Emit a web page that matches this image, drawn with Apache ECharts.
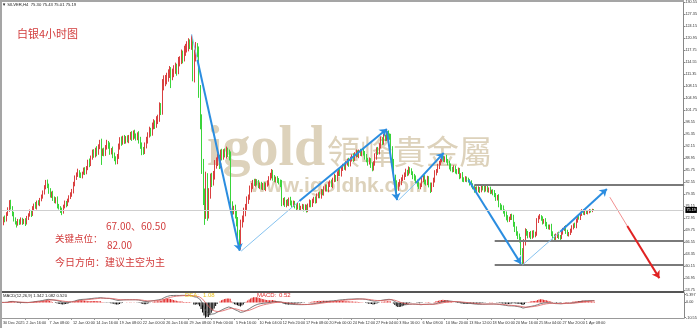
<!DOCTYPE html>
<html><head><meta charset="utf-8">
<script src="https://cdn.jsdelivr.net/npm/echarts@6/dist/echarts.min.js"></script>
<style>html,body{margin:0;padding:0;background:#fff}#c{width:700px;height:328px}</style>
</head><body><div id="c"></div>
<script>
// ---- data ----
const tickLabels = ["30 Dec 2025","2 Jan 16:00","7 Jan 08:00","12 Jan 00:00","14 Jan 16:00","19 Jan 08:00","22 Jan 00:00","26 Jan 16:00","29 Jan 08:00","3 Feb 00:00","5 Feb 16:00","10 Feb 04:00","12 Feb 20:00","17 Feb 08:00","20 Feb 00:00","24 Feb 12:00","27 Feb 04:00","3 Mar 16:00","6 Mar 08:00","10 Mar 20:00","13 Mar 12:00","18 Mar 00:00","20 Mar 16:00","25 Mar 04:00","27 Mar 20:00","1 Apr 08:00"];
const firstOpen = 72.0;
const closes = [
72.4,71.6,73.0,72.5,74.1,75.3,77.0,75.8,74.2,72.6,71.9,71.4,72.3,71.8,72.6,71.9,
72.4,71.7,73.1,73.9,74.6,74.0,75.6,76.5,76.0,77.2,76.8,78.0,78.6,79.9,81.2,82.3,
81.6,80.2,79.0,79.6,78.4,77.5,78.0,76.3,75.8,75.2,74.8,76.1,77.0,76.6,77.8,78.6,
79.3,80.0,82.2,83.7,84.6,85.3,84.6,84.2,85.0,85.8,85.2,86.4,88.0,87.4,89.2,90.6,
89.8,91.2,90.4,92.0,93.0,90.4,91.0,90.2,91.8,93.0,92.4,90.6,91.2,89.8,88.9,88.2,
89.4,92.0,93.8,93.2,94.4,93.6,94.2,93.8,94.6,95.2,94.5,95.7,95.0,94.4,95.1,93.8,
92.5,91.0,90.8,92.4,93.8,95.2,96.3,95.8,97.6,98.4,97.9,99.0,99.7,102.4,101.8,108.5,
109.3,110.0,110.4,111.6,112.0,110.8,111.9,112.6,113.1,112.4,114.7,115.2,116.5,115.8,117.6,118.4,
118.9,119.5,119.2,119.6,111.0,116.0,118.4,117.3,106.7,98.7,87.2,79.5,74.6,83.2,74.5,79.5,
83.7,82.8,84.5,87.2,88.2,89.0,87.2,90.2,89.6,90.6,90.0,90.9,90.2,89.4,76.5,75.0,
75.4,74.2,72.0,68.5,65.8,71.5,72.8,74.6,76.0,77.8,78.6,80.8,81.6,82.6,82.2,82.8,
82.4,81.6,82.0,81.2,81.8,81.0,82.0,82.4,83.6,84.2,85.3,83.8,83.2,83.6,82.9,82.6,
82.0,77.2,77.8,76.6,77.4,76.8,77.9,77.2,76.5,77.0,76.2,75.8,76.4,75.7,75.9,76.2,
75.4,76.0,75.2,76.4,77.2,76.6,77.5,78.2,77.6,78.8,79.4,78.9,80.2,79.6,80.8,81.4,
80.6,81.9,82.6,81.8,83.2,84.0,83.4,84.8,85.6,84.9,86.2,87.0,86.4,87.6,88.2,87.5,
88.6,89.4,88.8,89.9,90.5,89.8,90.6,90.2,90.8,90.3,89.4,88.6,87.9,88.4,87.2,86.4,
87.6,89.4,91.2,90.6,92.4,93.9,93.2,94.7,94.2,95.7,95.0,94.6,91.5,88.0,84.0,82.4,
81.0,82.0,82.6,83.4,83.9,84.6,85.4,85.0,86.2,85.6,85.0,84.2,83.6,82.8,82.2,81.4,
81.8,83.2,83.7,82.8,82.4,83.6,82.0,80.6,81.8,83.2,85.0,85.6,86.8,87.7,88.4,89.0,
88.6,89.2,88.3,87.7,86.8,86.2,85.8,86.4,85.6,85.3,85.8,84.2,84.6,83.4,83.2,83.6,
83.2,83.0,82.4,81.8,81.2,80.5,81.0,80.5,80.8,80.4,81.2,81.0,80.6,81.3,80.5,80.8,
80.0,80.2,79.8,79.2,78.4,78.6,76.5,76.0,75.7,74.8,74.2,73.3,72.6,73.0,73.6,73.2,
71.5,70.2,69.0,68.2,67.4,64.2,61.6,66.5,69.6,69.0,68.4,68.9,68.1,69.2,68.6,68.9,
72.4,73.2,73.4,72.9,72.0,72.3,71.4,70.8,70.5,70.9,69.0,68.0,67.6,68.4,68.8,68.0,
67.9,69.2,70.0,70.4,69.4,68.7,68.9,69.6,70.6,71.2,70.8,72.4,73.3,73.0,74.2,75.0,
74.3,74.7,74.4,74.6,75.1,74.9,75.30,75.19];
const upperWicks = [
0.5,0.6,0.4,0.7,0.5,0.6,0.8,0.9,0.4,0.5,0.6,0.3,0.5,0.4,0.6,0.5,
0.4,0.6,0.5,0.4,0.7,0.5,0.6,0.4,0.8,0.5,0.6,0.4,0.7,0.5,0.6,0.9,
1.0,0.6,0.8,0.5,0.7,0.4,0.6,0.8,0.5,0.4,0.6,0.5,0.7,0.6,0.4,0.5,
0.6,0.8,0.5,0.7,0.6,0.9,0.5,0.6,0.4,0.7,0.8,0.5,0.6,0.9,0.5,0.7,
0.8,0.6,1.0,0.7,0.9,1.2,0.6,0.8,0.7,0.9,0.6,0.8,0.5,0.9,0.7,0.6,
0.7,0.9,0.8,1.0,0.6,0.8,0.7,0.9,0.6,0.8,1.0,0.7,0.9,0.6,0.8,1.1,
0.9,0.7,1.0,0.8,0.9,0.7,1.1,0.8,0.9,1.0,0.7,1.2,0.9,1.5,1.3,1.6,
1.8,1.2,1.4,1.1,1.6,1.3,1.0,1.2,1.4,1.1,1.3,1.0,1.5,1.2,1.4,1.1,
1.3,1.5,1.2,2.2,1.4,2.0,1.6,1.3,1.5,1.8,2.0,1.6,1.4,2.2,1.8,1.5,
1.2,1.4,1.1,1.3,1.0,1.2,0.9,1.1,1.3,0.8,1.0,1.2,0.9,1.1,1.4,1.0,
0.9,1.2,1.0,1.3,1.4,1.1,0.9,1.2,0.8,1.0,0.7,0.9,0.8,0.6,0.9,0.7,
0.6,0.8,0.5,0.7,0.6,0.8,0.5,0.7,0.6,0.9,0.8,0.6,0.7,0.5,0.6,0.8,
0.7,1.2,0.6,0.8,0.5,0.7,0.6,0.8,0.5,0.7,0.6,0.5,0.7,0.6,0.4,0.6,
0.5,0.7,0.6,0.5,0.8,0.6,0.7,0.5,0.6,0.8,0.5,0.7,0.6,0.5,0.7,0.6,
0.6,0.8,0.5,0.7,0.6,0.9,0.5,0.7,0.8,0.6,0.7,0.5,0.8,0.6,0.7,0.9,
0.8,0.6,0.9,0.7,0.8,0.6,0.7,0.9,0.5,0.8,0.6,0.7,0.5,0.8,0.6,0.7,
0.6,0.9,0.7,0.8,0.6,0.9,0.7,0.8,0.6,0.8,0.7,0.6,0.9,0.7,0.8,0.6,
0.7,0.6,0.8,0.5,0.7,0.6,0.8,0.5,0.6,0.4,0.7,0.5,0.6,0.8,0.5,0.6,
0.5,0.7,0.6,0.8,0.5,0.7,0.6,0.5,0.7,0.6,0.8,0.5,0.7,0.6,0.5,0.7,
0.6,0.3,0.7,0.5,0.6,0.8,0.5,0.7,0.6,0.5,0.7,0.6,0.4,0.7,0.5,0.6,
0.5,0.6,0.4,0.7,0.5,0.6,0.4,0.5,0.7,0.5,0.6,0.4,0.6,0.5,0.7,0.4,
0.6,0.4,0.5,0.7,0.5,0.6,0.8,0.5,0.6,0.7,0.5,0.6,0.5,0.4,0.5,0.6,
0.7,0.5,0.6,0.5,0.7,0.6,0.8,0.9,0.7,0.5,0.6,0.4,0.7,0.5,0.6,0.5,
0.6,0.5,0.7,0.4,0.6,0.5,0.7,0.6,0.5,0.4,0.6,0.5,0.7,0.5,0.4,0.6,
0.5,0.6,0.4,0.5,0.7,0.5,0.4,0.6,0.5,0.4,0.6,0.5,0.4,0.6,0.5,0.4,
0.4,0.3,0.4,0.3,0.3,0.2,0.2,0.13];
const lowerWicks = [
0.6,0.8,0.5,0.6,0.4,0.5,0.6,0.5,0.7,0.5,0.6,0.9,0.4,0.6,0.5,0.7,
0.5,0.8,0.4,0.6,0.5,0.7,0.4,0.6,0.5,0.7,0.4,0.6,0.5,0.4,0.6,0.5,
0.6,0.7,0.5,0.6,0.8,0.5,0.6,0.7,0.5,0.8,1.0,0.6,0.5,0.7,0.4,0.6,
0.5,0.6,0.4,0.7,0.5,0.6,0.8,0.5,0.6,0.4,0.7,0.5,0.6,0.8,0.5,0.6,
0.7,0.6,0.9,0.5,0.6,3.2,0.8,0.7,0.6,0.5,0.9,0.7,0.6,0.8,0.7,0.9,
0.8,0.6,0.7,0.9,0.6,0.8,0.7,0.6,0.8,0.7,0.9,0.6,0.8,0.7,0.6,0.9,
1.0,1.2,0.9,0.7,0.8,0.9,0.7,1.0,0.8,0.9,1.1,0.8,0.9,1.0,1.3,1.2,
1.4,1.1,1.3,1.0,1.2,3.1,1.0,1.3,1.1,1.4,1.0,1.2,1.1,1.5,1.0,1.3,
1.2,1.4,1.1,1.3,1.5,1.8,1.2,1.4,1.6,2.0,2.4,3.0,3.4,1.8,2.2,1.6,
1.3,1.5,1.1,1.2,1.0,1.3,1.1,0.9,1.2,1.0,0.8,1.1,0.9,1.0,1.6,1.2,
1.0,1.3,1.2,1.1,1.4,1.2,1.0,0.9,1.1,0.8,1.0,0.7,0.9,0.8,0.6,0.8,
0.7,0.6,0.8,0.6,0.7,0.5,0.8,0.6,0.7,0.5,0.6,0.8,0.6,0.7,0.5,0.6,
0.7,1.0,0.8,0.6,0.7,0.5,0.6,0.8,0.7,0.5,0.6,0.7,0.5,0.6,0.8,0.5,
0.6,0.5,0.7,0.6,0.5,0.7,0.6,0.5,0.7,0.6,0.5,0.6,0.7,0.5,0.6,0.7,
0.5,0.7,0.6,0.5,0.8,0.6,0.7,0.5,0.6,0.7,0.8,0.6,0.5,0.7,0.6,0.8,
0.7,0.5,0.8,0.6,0.7,0.5,0.8,0.6,0.7,0.6,0.8,0.7,0.9,0.6,0.8,0.9,
0.7,0.6,0.8,0.7,0.6,0.8,0.7,0.6,0.7,0.6,0.8,0.7,0.9,1.0,1.1,0.9,
1.5,0.7,0.6,0.8,0.5,0.7,0.6,0.8,0.6,0.7,0.5,0.8,0.6,0.7,0.8,0.6,
0.7,0.5,0.6,0.8,0.7,0.6,0.8,0.9,0.6,0.5,0.7,0.6,0.5,0.7,0.6,0.5,
0.6,0.7,0.5,0.6,0.8,0.7,0.6,0.5,0.7,0.6,0.5,0.8,0.6,0.7,0.6,0.5,
0.6,0.5,0.7,0.6,0.5,0.7,0.6,0.5,0.6,0.7,0.5,0.6,0.7,0.5,0.6,0.7,
0.6,0.5,0.7,0.6,0.8,0.7,0.6,0.8,0.7,0.6,0.8,0.9,0.7,0.6,0.5,0.7,
0.8,0.9,0.7,0.8,0.9,1.1,1.1,0.9,0.8,0.7,0.8,0.6,0.7,0.6,0.8,0.7,
0.6,0.7,0.5,0.6,0.7,0.5,0.6,0.7,0.5,0.6,0.8,0.7,0.6,0.5,0.7,0.6,
0.7,0.5,0.6,0.4,0.6,0.5,0.6,0.4,0.5,0.6,0.4,0.5,0.6,0.4,0.5,0.6,
0.4,0.5,0.3,0.4,0.3,0.4,0.3,0.18];
const priceAxisLabels = [53.75,56.95,60.15,63.35,66.55,69.75,72.95,76.15,79.35,82.55,85.75,88.95,92.15,95.35,98.55,101.75,104.95,108.15,111.35,114.55,117.75,120.95,124.15,127.35,130.55];
const macdAxisLabels = [5.397, 0, -10.55];
const keyLevels = [82, 67, 60.5];
const keyLevelStartBar = [324.5, 338.9, 338.9];
const lastPrice = 75.19;
const TOTAL_SLOTS = 469;   // bar slots on the time axis (incl. empty right margin)
const LABEL_EVERY = 16;
// hand-drawn annotation arrows, in (bar index, price)
const thinBlueSegments = [
  [[131.1,122.1],[135.3,115.2]],
  [[164.7,64.2],[205.2,77.6]],
  [[273.1,77.8],[285.4,82.4]],
  [[358.1,60.5],[383.5,69.4]]
];
const thickBlueArrows = [
  [[135.3,115.2],[164.1,64.3]],
  [[205.2,77.6],[264.9,96.8]],
  [[264.9,96.3],[272.4,77.8]],
  [[285.4,82.4],[303.9,90.4]],
  [[321.1,83.2],[357.4,60.8]],
  [[383.5,69.4],[415.7,80.8]]
];
const redThinSegments = [[[417.8,78.6],[430.1,70.9]]];
const redThickArrows = [[[430.1,70.9],[452.0,57.0]]];

// ---- build ----
const categories = [];
for (let i = 0; i < TOTAL_SLOTS; i++) {
  categories.push(i % LABEL_EVERY === 0 && i / LABEL_EVERY < tickLabels.length ? tickLabels[i / LABEL_EVERY] : '');
}
const candles = closes.map((c, i) => {
  const o = i === 0 ? firstOpen : closes[i - 1];
  const h = Math.max(o, c) + upperWicks[i];
  const l = Math.min(o, c) - lowerWicks[i];
  return [o, c, +l.toFixed(2), +h.toFixed(2)];
});
// MACD(12,26,9) indicator derived from the closes
function ema(arr, n) {
  const k = 2 / (n + 1); const out = []; let prev = arr[0];
  arr.forEach((v, i) => { prev = i === 0 ? v : v * k + prev * (1 - k); out.push(prev); });
  return out;
}
const e12 = ema(closes, 12), e26 = ema(closes, 26);
const dif = closes.map((_, i) => e12[i] - e26[i]);
const dea = ema(dif, 9);
const macdHist = dif.map((d, i) => 2 * (d - dea[i]));

const labelInterval = (idx) => idx % LABEL_EVERY === 0 && idx / LABEL_EVERY < tickLabels.length;
const tinyFont = 3.8;
const wm = '#ddd2bb';
const redText = '#d23c3c';
const cjk = '"Noto Sans CJK SC", sans-serif';

const chart = echarts.init(document.getElementById('c'), null, {renderer: 'canvas'});
chart.setOption({
  animation: false,
  backgroundColor: '#fff',
  grid: [
    {left: 0, top: 0, width: 684, height: 292},
    {left: 0, top: 293, width: 684, height: 25}
  ],
  xAxis: [
    {type: 'category', gridIndex: 0, data: categories, boundaryGap: true,
     axisLine: {show: true, onZero: false, lineStyle: {color: '#555', width: 2}},
     axisTick: {show: false}, axisLabel: {show: false}, splitLine: {show: false}},
    {type: 'category', gridIndex: 1, data: categories, boundaryGap: true,
     axisLine: {show: true, onZero: false, lineStyle: {color: '#999', width: 1}},
     axisTick: {show: true, interval: labelInterval, alignWithLabel: true, length: 2, lineStyle: {color: '#999'}},
     axisLabel: {interval: labelInterval, fontSize: tinyFont, color: '#333', align: 'left', margin: 3, padding: [0,0,0,1.5], fontFamily: 'Liberation Sans'},
     splitLine: {show: false}}
  ],
  yAxis: [
    {type: 'value', gridIndex: 0, position: 'right', min: 53.3, max: 131.2, scale: true,
     splitLine: {show: false},
     axisLine: {show: true, lineStyle: {color: '#888'}},
     axisTick: {show: true, length: 2, customValues: priceAxisLabels, lineStyle: {color: '#888'}},
     axisLabel: {customValues: priceAxisLabels, formatter: v => v.toFixed(2), fontSize: tinyFont, color: '#333', margin: 2, fontFamily: 'Liberation Sans'}},
    {type: 'value', gridIndex: 1, position: 'right', min: -10.9, max: 6.6,
     splitLine: {show: false},
     axisLine: {show: true, lineStyle: {color: '#888'}},
     axisTick: {show: true, length: 2, customValues: macdAxisLabels, lineStyle: {color: '#888'}},
     axisLabel: {customValues: macdAxisLabels, formatter: v => v === 0 ? '0.00' : String(v), fontSize: tinyFont, color: '#333', margin: 2, fontFamily: 'Liberation Sans'}}
  ],
  series: [
    {type: 'candlestick', xAxisIndex: 0, yAxisIndex: 0, data: candles, barWidth: 1,
     itemStyle: {color: '#d42a2a', color0: '#2fcc2f', borderColor: '#d94040', borderColor0: '#3ad43a', borderWidth: 1},
     markLine: {silent: true, symbol: 'none', data: [{yAxis: lastPrice}],
       lineStyle: {color: '#cfcfcf', width: 1, type: 'solid'},
       label: {show: true, position: 'end', formatter: lastPrice.toFixed(2), backgroundColor: '#000', color: '#fff', fontSize: tinyFont, padding: [1,1], distance: 2, fontFamily: 'Liberation Sans'}}},
    {type: 'lines', coordinateSystem: 'cartesian2d', xAxisIndex: 0, yAxisIndex: 0, silent: true, z: 3,
     data: keyLevels.map((v, i) => ({coords: [[keyLevelStartBar[i], v], [TOTAL_SLOTS - 0.5, v]]})),
     lineStyle: {color: '#7a7a7a', width: 2, opacity: 1}, symbol: 'none'},
    {type: 'lines', coordinateSystem: 'cartesian2d', xAxisIndex: 0, yAxisIndex: 0, silent: true, z: 4,
     data: thinBlueSegments.map(c => ({coords: c})),
     lineStyle: {color: '#86c3f0', width: 1, opacity: 1}, symbol: 'none'},
    {type: 'lines', coordinateSystem: 'cartesian2d', xAxisIndex: 0, yAxisIndex: 0, silent: true, z: 4,
     data: thickBlueArrows.map(c => ({coords: c})),
     lineStyle: {color: '#2b8de0', width: 2, opacity: 1}, symbol: ['none', 'arrow'], symbolSize: 7},
    {type: 'lines', coordinateSystem: 'cartesian2d', xAxisIndex: 0, yAxisIndex: 0, silent: true, z: 4,
     data: redThinSegments.map(c => ({coords: c})),
     lineStyle: {color: '#f29090', width: 1, opacity: 1}, symbol: 'none'},
    {type: 'lines', coordinateSystem: 'cartesian2d', xAxisIndex: 0, yAxisIndex: 0, silent: true, z: 4,
     data: redThickArrows.map(c => ({coords: c})),
     lineStyle: {color: '#e02222', width: 2, opacity: 1}, symbol: ['none', 'arrow'], symbolSize: 7},
    {type: 'bar', xAxisIndex: 1, yAxisIndex: 1, barWidth: 1, silent: true,
     data: macdHist.map(v => ({value: v, itemStyle: {color: v >= 0 ? '#e02020' : '#000'}}))},
    {type: 'line', xAxisIndex: 1, yAxisIndex: 1, data: dif, showSymbol: false, silent: true,
     lineStyle: {color: '#555', width: 0.8}},
    {type: 'line', xAxisIndex: 1, yAxisIndex: 1, data: dea, showSymbol: false, silent: true,
     lineStyle: {color: '#e06060', width: 0.8}}
  ],
  graphic: [
    {type: 'text', x: 207, y: 151, z: 0, style: {text: 'igold', fill: wm, font: 'bold 56px "Liberation Serif", serif', textVerticalAlign: 'middle'}},
    {type: 'text', x: 327, y: 151, z: 0, style: {text: '領峰貴金屬', fill: wm, font: '33px "Noto Sans CJK TC", sans-serif', textVerticalAlign: 'middle'}},
    {type: 'text', x: 250, y: 186, z: 0, style: {text: 'www.igoldhk.com', fill: wm, font: 'bold 21px "Liberation Sans", sans-serif', textVerticalAlign: 'middle'}},
    {type: 'text', x: 17, y: 34, z: 100, style: {text: '白银4小时图', fill: redText, font: '11px ' + cjk, textVerticalAlign: 'middle'}},
    {type: 'text', x: 106, y: 226, z: 100, style: {text: '67.00、60.50', fill: redText, font: '10px ' + cjk, textVerticalAlign: 'middle'}},
    {type: 'text', x: 55, y: 238.5, z: 100, style: {text: '关键点位：', fill: redText, font: '9.5px ' + cjk, textVerticalAlign: 'middle'}},
    {type: 'text', x: 107, y: 245, z: 100, style: {text: '82.00', fill: redText, font: '10px ' + cjk, textVerticalAlign: 'middle'}},
    {type: 'text', x: 55, y: 262.5, z: 100, style: {text: '今日方向：建议主空为主', fill: redText, font: '10px ' + cjk, textVerticalAlign: 'middle'}},
    {type: 'text', x: 2, y: 4.5, z: 100, style: {text: '▼ SILVER,H4  75.30 75.43 75.01 75.19', fill: '#222', font: '4.2px "Liberation Sans", sans-serif', textVerticalAlign: 'middle'}},
    {type: 'text', x: 3, y: 296, z: 100, style: {text: 'MACD(12,26,9) 1.342 1.082 0.520', fill: '#222', font: '4.2px "Liberation Sans", sans-serif', textVerticalAlign: 'middle'}},
    {type: 'text', x: 185, y: 295.5, z: 100, style: {text: 'DEA:', fill: '#e8c020', font: '6px "Liberation Sans", sans-serif', textVerticalAlign: 'middle'}},
    {type: 'text', x: 203, y: 295.5, z: 100, style: {text: '1.08', fill: '#e8c020', font: '6px "Liberation Sans", sans-serif', textVerticalAlign: 'middle'}},
    {type: 'text', x: 257, y: 295.5, z: 100, style: {text: 'MACD:', fill: '#e03030', font: '6px "Liberation Sans", sans-serif', textVerticalAlign: 'middle'}},
    {type: 'text', x: 279, y: 295.5, z: 100, style: {text: '0.52', fill: '#e03030', font: '6px "Liberation Sans", sans-serif', textVerticalAlign: 'middle'}},
    {type: 'rect', z: 200, shape: {x: 0, y: 0, width: 684, height: 2}, style: {fill: '#a5a5a5'}},
    {type: 'rect', z: 200, shape: {x: 0, y: 0, width: 2, height: 328}, style: {fill: '#a5a5a5'}}
  ]
});
</script>
</body></html>
